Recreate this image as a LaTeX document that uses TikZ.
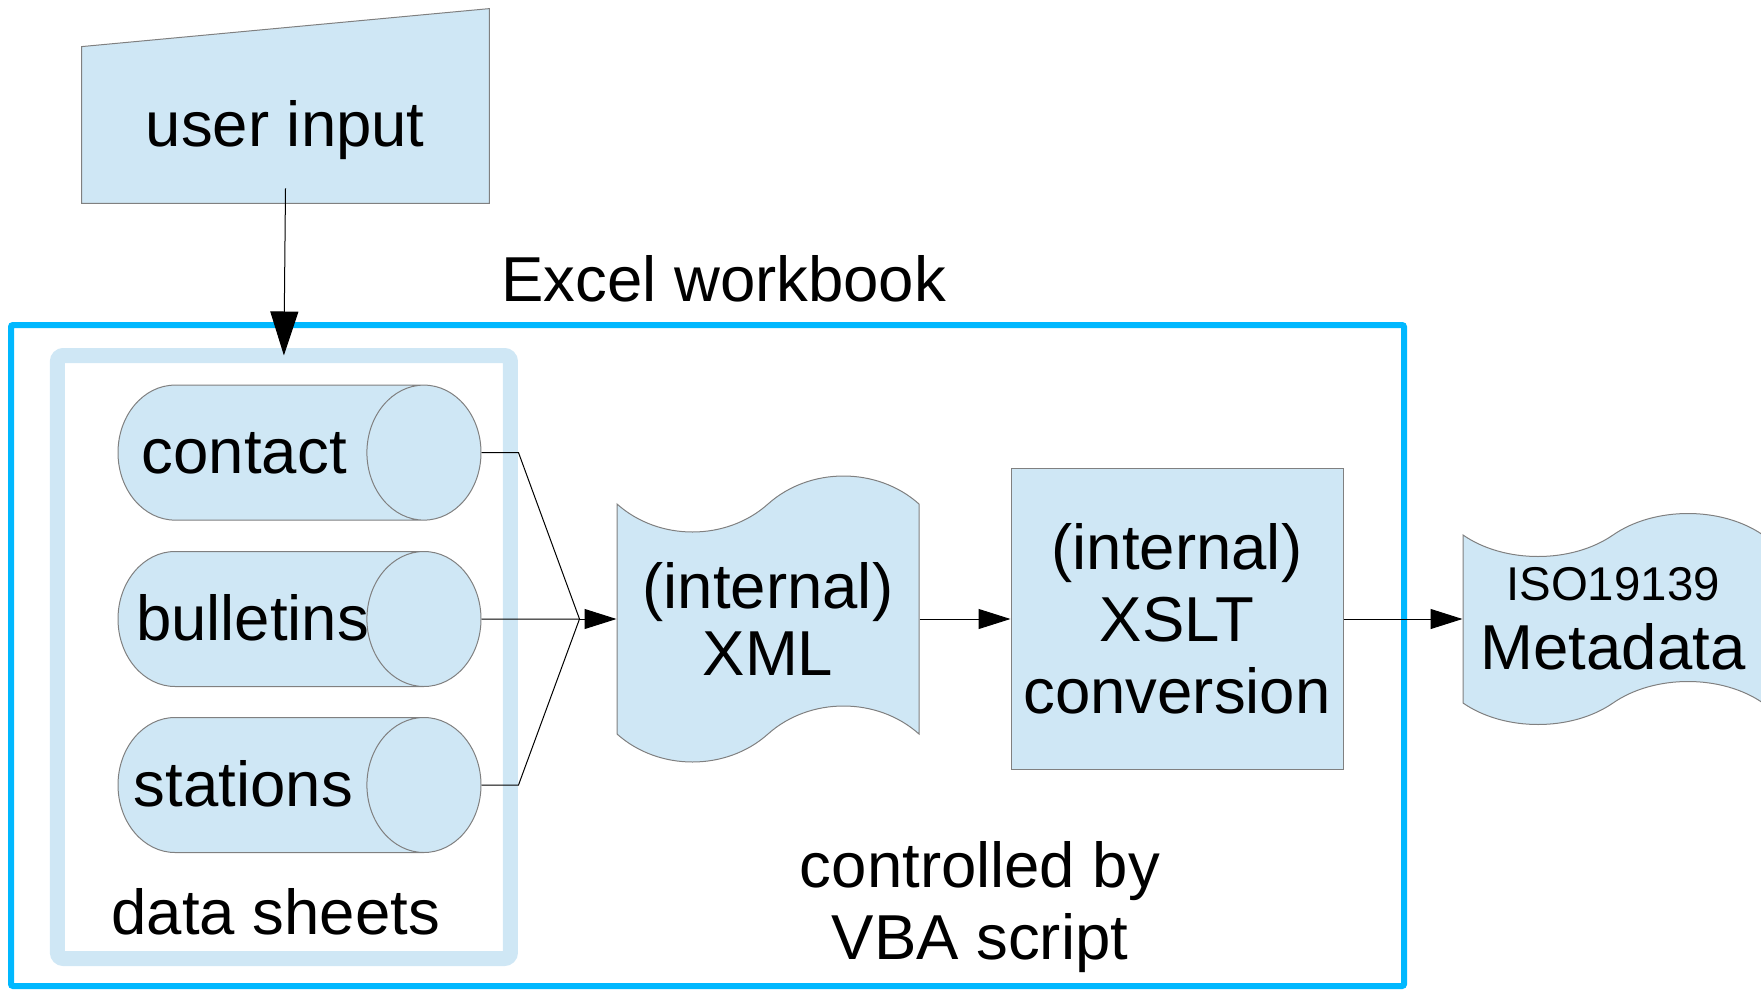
\documentclass[tikz,border=0pt]{standalone}
\usepackage{fontspec}
\setmainfont{Liberation Sans}
\usetikzlibrary{shapes.geometric, shapes.symbols, arrows.meta}

\definecolor{sheetblue}{RGB}{207,231,245}
\definecolor{framecyan}{RGB}{0,184,255}
\definecolor{edgegray}{RGB}{128,128,128}

\tikzset{
  txt/.style={font=\fontsize{31.75}{36}\selectfont, inner sep=0pt},
  shapebox/.style={fill=sheetblue, draw=edgegray, line width=0.5pt},
  sheet/.style={shapebox, cylinder, aspect=1.84, minimum width=67.5pt,
    minimum height=181.5pt, inner sep=0pt, text height=26pt, text depth=5pt},
  tapebox/.style={shapebox, tape, txt, align=center},
  flow/.style={-{Triangle[length=16pt,width=10pt]}, line width=0.5pt},
  bigflow/.style={-{Triangle[length=22pt,width=14pt]}, line width=0.5pt},
}

\begin{document}
\begin{tikzpicture}[x=0.5pt, y=-0.5pt]
\useasboundingbox (0,0) rectangle (1761,990);

% frames
\node[draw=framecyan, line width=3pt, rounded corners=1pt, outer sep=0pt,
  minimum width=696.5pt, minimum height=330.5pt] (excel) at (707.5,655.5) {};
\node[txt, anchor=base] (excellabel) at (723.8,301) {Excel workbook};
\node[draw=sheetblue, line width=7.5pt, rounded corners=3pt, outer sep=0pt,
  minimum width=226.5pt, minimum height=301.5pt] (sheets) at (283.9,657) {};
\node[txt, anchor=base] (sheetslabel) at (275.7,934) {data sheets};

% user input
\node[minimum width=203.5pt, minimum height=97pt, inner sep=0pt] (user) at (285.5,106) {};
\draw[shapebox] (user.south west) -- (user.south east) -- (user.north east)
  -- ([yshift=-19pt]user.north west) -- cycle;
\node[txt, anchor=base] (usertext) at (285.3,147) {user input};

% sheets
\node[sheet, anchor=shape center] (contact) at (299.5,452.6) {};
\node[sheet, anchor=shape center] (bulletins) at (299.5,619) {};
\node[sheet, anchor=shape center] (stations) at (299.5,785) {};
\node[txt, anchor=base] (contacttext) at (244.3,473.9) {contact};
\node[txt, anchor=base] (bulletinstext) at (252.6,640.8) {bulletins};
\node[txt, anchor=base] (stationstext) at (243.4,806.2) {stations};

% xml, xslt, metadata
\node[tapebox, minimum width=151pt, minimum height=143pt, tape bend height=28pt]
  (xml) at (768,619) {(internal)\\[-2.25pt]XML};
\node[shapebox, txt, align=center, minimum width=166pt, minimum height=150.5pt]
  (xslt) at (1177,619) {(internal)\\XSLT\\conversion};
\node[tapebox, minimum width=150pt, minimum height=105.5pt, tape bend height=21.5pt]
  (meta) at (1613,619) {{\fontsize{23.7}{28}\selectfont ISO19139}\\[-1.7pt]Metadata};
\node[txt, align=center] (vba) at (980,907) {controlled by\\VBA script};

% connectors
\coordinate (join) at (579.5,619);
\draw[line width=0.5pt] (contact.east) -- ++(37,0) -- (join);
\draw[line width=0.5pt] (bulletins.east) -- (join);
\draw[line width=0.5pt] (stations.east) -- ++(37,0) -- (join);
\draw[flow] (join) -- (xml.west);
\draw[flow] (xml.east) -- (xslt.west);
\draw[flow] (xslt.east) -- (meta.west);
\draw[bigflow] ([yshift=7.5pt]user.south) -- (sheets.north);
\end{tikzpicture}
\end{document}
